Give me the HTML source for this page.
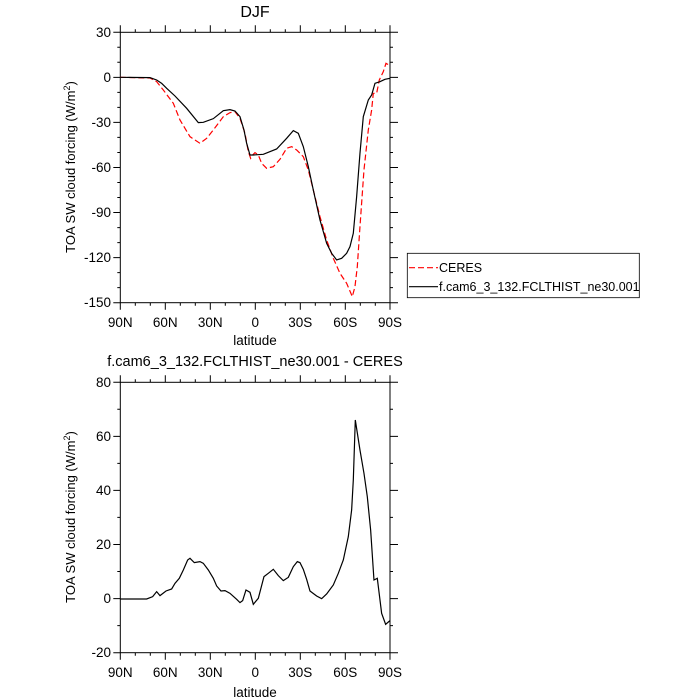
<!DOCTYPE html>
<html><head><meta charset="utf-8"><style>
body{margin:0;background:#fff;}
svg{display:block;font-family:"Liberation Sans",Arial,sans-serif;}
</style></head><body>
<svg width="700" height="700" viewBox="0 0 700 700" xmlns="http://www.w3.org/2000/svg">
<g id="top">
<text x="255" y="17" font-size="16" text-anchor="middle">DJF</text>
<rect x="120.3" y="32.3" width="269.7" height="270.4" fill="none" stroke="#000" stroke-width="1"/>
<g stroke="#000" stroke-width="1">
<path d="M120.3 302.7v7M165.3 302.7v7M210.3 302.7v7M255.3 302.7v7M300.3 302.7v7M345.3 302.7v7M390 302.7v7
M120.3 32.3v-7M165.3 32.3v-7M210.3 32.3v-7M255.3 32.3v-7M300.3 32.3v-7M345.3 32.3v-7M390 32.3v-7
M135.3 302.7v3M150.3 302.7v3M180.3 302.7v3M195.3 302.7v3M225.3 302.7v3M240.3 302.7v3M270.3 302.7v3M285.3 302.7v3M315.3 302.7v3M330.3 302.7v3M360.3 302.7v3M375.3 302.7v3
M135.3 32.3v-3M150.3 32.3v-3M180.3 32.3v-3M195.3 32.3v-3M225.3 32.3v-3M240.3 32.3v-3M270.3 32.3v-3M285.3 32.3v-3M315.3 32.3v-3M330.3 32.3v-3M360.3 32.3v-3M375.3 32.3v-3"/>
<path d="M120.3 32.3h-7M120.3 77.4h-7M120.3 122.4h-7M120.3 167.5h-7M120.3 212.5h-7M120.3 257.6h-7M120.3 302.7h-7
M390 32.3h8M390 77.4h8M390 122.4h8M390 167.5h8M390 212.5h8M390 257.6h8M390 302.7h8
M120.3 47.3h-3M120.3 62.3h-3M120.3 92.4h-3M120.3 107.4h-3M120.3 137.4h-3M120.3 152.5h-3M120.3 182.5h-3M120.3 197.5h-3M120.3 227.6h-3M120.3 242.6h-3M120.3 272.6h-3M120.3 287.6h-3
M390 47.3h3M390 62.3h3M390 92.4h3M390 107.4h3M390 137.4h3M390 152.5h3M390 182.5h3M390 197.5h3M390 227.6h3M390 242.6h3M390 272.6h3M390 287.6h3"/>
</g>
<g font-size="13.5" text-anchor="end">
<text x="111" y="37">30</text><text x="111" y="82">0</text><text x="111" y="127">-30</text><text x="111" y="172">-60</text><text x="111" y="217">-90</text><text x="111" y="262">-120</text><text x="111" y="307">-150</text>
</g>
<g font-size="13.5" text-anchor="middle">
<text x="120.3" y="327">90N</text><text x="165.3" y="327">60N</text><text x="210.3" y="327">30N</text><text x="255.3" y="327">0</text><text x="300.3" y="327">30S</text><text x="345.3" y="327">60S</text><text x="390" y="327">90S</text>
<text x="255" y="345">latitude</text>
</g>
<text transform="translate(75,167) rotate(-90)" font-size="13" text-anchor="middle">TOA SW cloud forcing (W/m<tspan font-size="9" dy="-5">2</tspan><tspan dy="5">)</tspan></text>
<g transform="translate(60,20) scale(0.3333)" fill="none">
<polyline vector-effect="non-scaling-stroke" stroke="#f00" stroke-width="1.2" stroke-dasharray="6,3" points="181,172 270,174 290,185 310,210 340,250 360,300 390,350 420,370 440,355 460,330 475,310 490,290 510,278 525,275 540,295 555,340 565,395 572,415 578,405 585,398 595,405 605,430 620,445 640,440 660,418 680,385 695,380 710,390 730,410 745,450 760,510 780,590 800,660 820,715 840,760 860,790 877,830 885,800 892,740 900,620 912,450 925,330 935,270 940,220 950,220 958,180 970,155 978,130 990,137"/>
<polyline vector-effect="non-scaling-stroke" stroke="#000" stroke-width="1.2" points="181,172 270,173 290,180 305,190 320,205 345,228 380,265 415,308 430,307 460,296 490,272 510,269 525,273 540,290 552,330 560,370 570,405 580,405 610,403 650,387 680,355 700,332 715,340 730,380 745,440 760,510 780,600 800,670 815,700 830,720 845,715 860,700 870,680 880,640 890,530 900,400 910,290 925,240 935,225 945,190 960,185 975,178 990,175"/>
</g>
<rect x="407.3" y="253.3" width="232" height="44.4" fill="#fff" stroke="#000" stroke-width="0.8"/>
<line x1="409" y1="267.7" x2="438" y2="267.7" stroke="#f00" stroke-width="1.2" stroke-dasharray="6,3"/>
<line x1="409" y1="286.7" x2="438" y2="286.7" stroke="#000" stroke-width="1.2"/>
<text x="439" y="272" font-size="12.5">CERES</text>
<text x="439" y="291" font-size="12.5">f.cam6_3_132.FCLTHIST_ne30.001</text>
</g>

<g id="bot">
<text x="255" y="366" font-size="14.5" text-anchor="middle">f.cam6_3_132.FCLTHIST_ne30.001 - CERES</text>
<rect x="120.3" y="382.3" width="269.7" height="270.4" fill="none" stroke="#000" stroke-width="1"/>
<g stroke="#000" stroke-width="1">
<path d="M120.3 652.7v7M165.3 652.7v7M210.3 652.7v7M255.3 652.7v7M300.3 652.7v7M345.3 652.7v7M390 652.7v7
M120.3 382.3v-7M165.3 382.3v-7M210.3 382.3v-7M255.3 382.3v-7M300.3 382.3v-7M345.3 382.3v-7M390 382.3v-7
M135.3 652.7v3M150.3 652.7v3M180.3 652.7v3M195.3 652.7v3M225.3 652.7v3M240.3 652.7v3M270.3 652.7v3M285.3 652.7v3M315.3 652.7v3M330.3 652.7v3M360.3 652.7v3M375.3 652.7v3
M135.3 382.3v-3M150.3 382.3v-3M180.3 382.3v-3M195.3 382.3v-3M225.3 382.3v-3M240.3 382.3v-3M270.3 382.3v-3M285.3 382.3v-3M315.3 382.3v-3M330.3 382.3v-3M360.3 382.3v-3M375.3 382.3v-3"/>
<path d="M120.3 382.3h-7M120.3 436.4h-7M120.3 490.4h-7M120.3 544.5h-7M120.3 598.6h-7M120.3 652.7h-7
M390 382.3h8M390 436.4h8M390 490.4h8M390 544.5h8M390 598.6h8M390 652.7h8
M120.3 409.3h-3M120.3 463.4h-3M120.3 517.4h-3M120.3 571.5h-3M120.3 625.6h-3
M390 409.3h3M390 463.4h3M390 517.4h3M390 571.5h3M390 625.6h3"/>
</g>
<g font-size="13.5" text-anchor="end">
<text x="111" y="387">80</text><text x="111" y="441">60</text><text x="111" y="495">40</text><text x="111" y="549">20</text><text x="111" y="603">0</text><text x="111" y="657">-20</text>
</g>
<g font-size="13.5" text-anchor="middle">
<text x="120.3" y="677">90N</text><text x="165.3" y="677">60N</text><text x="210.3" y="677">30N</text><text x="255.3" y="677">0</text><text x="300.3" y="677">30S</text><text x="345.3" y="677">60S</text><text x="390" y="677">90S</text>
<text x="255" y="697">latitude</text>
</g>
<text transform="translate(75,517) rotate(-90)" font-size="13" text-anchor="middle">TOA SW cloud forcing (W/m<tspan font-size="9" dy="-5">2</tspan><tspan dy="5">)</tspan></text>
<g transform="translate(60,370) scale(0.3333)" fill="none">
<polyline vector-effect="non-scaling-stroke" stroke="#000" stroke-width="1.2" points="181,687 260,687 278,680 290,665 300,677 318,663 335,657 345,640 358,625 370,600 383,570 390,565 403,578 420,575 430,580 445,600 460,625 470,648 483,663 495,662 510,670 530,688 540,698 548,692 558,660 570,667 580,703 595,685 612,620 625,610 640,598 655,617 670,632 685,622 700,590 712,575 720,578 730,598 740,628 750,663 770,678 785,686 800,672 820,645 835,610 850,570 865,500 875,420 880,330 886,150 900,240 912,310 922,380 932,480 942,630 952,625 965,730 977,763 990,752"/>
</g>
</g>
</svg>
</body></html>
